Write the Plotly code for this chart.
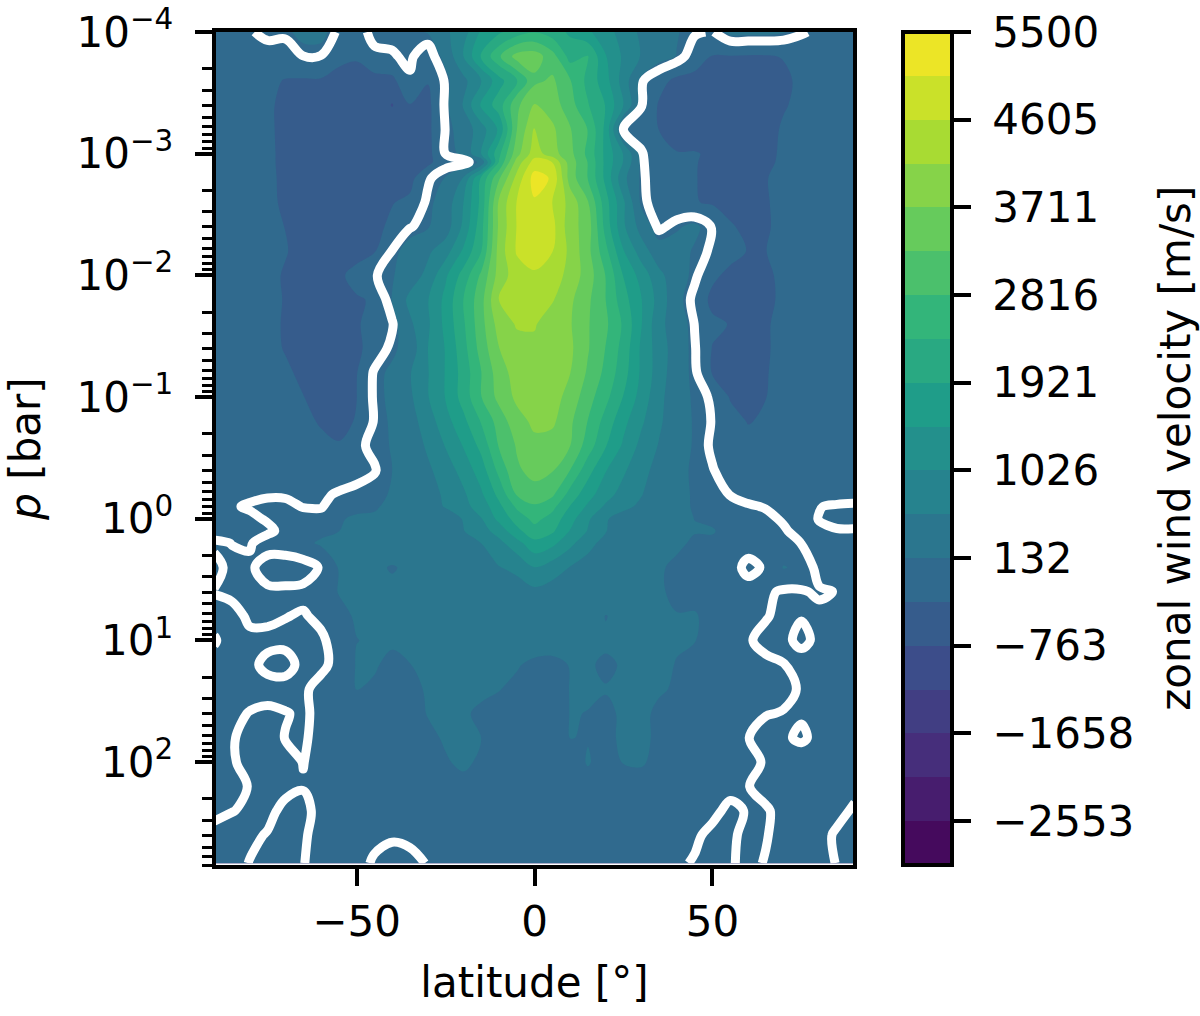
import plotly.graph_objects as go

latitude = list(range(-90, 95, 5))
log_p = [-4.0, -3.8, -3.6, -3.4, -3.2, -3.0, -2.93, -2.8, -2.6, -2.4, -2.2, -2.0, -1.8, -1.6, -1.4, -1.2, -1.0,
         -0.8, -0.6, -0.4, -0.2, -0.1, 0.0, 0.1, 0.2, 0.4, 0.6, 0.8, 1.0, 1.2, 1.4, 1.6, 1.8, 2.0, 2.2, 2.4, 2.6, 2.83]
pressure = [10 ** v for v in log_p]

# zonal wind in m/s, one row per pressure level
wind = [
    [-100,-100,-30,80,60,250,250,-60,-60,40,60,80,150,500,821,1547,1847,2147,2347,2147,1847,1547,1221,821,500,350,150,30,-20,200,200,200,150,30,-60,-100,-100],
    [-130,-140,-170,-150,-150,-5,-10,-250,-280,-30,-20,40,-150,250,1021,1947,2747,3447,3500,3000,2200,2400,1500,950,550,250,120,-150,-330,-330,-340,-340,-300,-230,-180,-150,-120],
    [-150,-170,-200,-260,-330,-350,-350,-400,-450,-450,-400,-30,-300,30,450,1021,1747,2347,3147,3347,2847,2247,1647,821,30,-200,-400,-420,-440,-450,-450,-420,-380,-250,-200,-150,-120],
    [-160,-170,-200,-280,-370,-450,-450,-450,-450,-450,-790,-330,-400,40,621,1547,2147,3147,3750,3500,3000,2400,1900,1021,20,-350,-420,-450,-450,-450,-450,-450,-340,-250,-190,-150,-120],
    [-160,-170,-210,-280,-370,-450,-450,-450,-450,-450,-450,-440,-400,10,300,821,1547,3247,4200,3800,3300,2800,1800,-10,-150,-320,-450,-450,-450,-450,-450,-420,-280,-210,-180,-140,-120],
    [-160,-170,-210,-280,-360,-450,-450,-450,-450,-450,-450,-450,-420,5,200,1021,2247,3547,4400,3900,3400,2700,1800,1000,30,-250,-300,-300,-350,-450,-450,-420,-250,-200,-170,-140,-120],
    [-160,-170,-210,-280,-360,-450,-450,-450,-450,-450,-450,-450,-400,-100,-100,200,2400,3900,4800,4600,3500,2800,1800,1000,50,-250,-290,-300,-380,-450,-450,-400,-240,-190,-170,-140,-120],
    [-160,-170,-210,-270,-360,-450,-450,-450,-450,-450,-450,-420,-40,150,600,2000,3200,4300,5250,5000,3500,2800,1800,700,60,-200,-280,-300,-400,-440,-450,-330,-230,-180,-160,-130,-120],
    [-160,-170,-210,-270,-350,-440,-450,-450,-450,-450,-330,-250,50,300,1021,2047,3800,4620,5000,4605,4000,3300,2100,1100,50,-100,-250,-300,-350,-430,-440,-340,-230,-180,-160,-130,-120],
    [-160,-170,-210,-260,-320,-430,-450,-450,-450,-400,-250,-20,100,350,1119,2200,3800,4620,4900,4750,3900,3500,2200,1100,400,-60,100,200,-20,-280,-400,-350,-230,-180,-160,-130,-120],
    [-160,-170,-200,-250,-300,-400,-450,-450,-450,-340,10,300,500,821,1547,2347,3900,4650,4800,4620,4050,3400,2500,1500,800,300,250,100,-40,-200,-330,-320,-230,-180,-160,-130,-120],
    [-150,-170,-200,-250,-340,-430,-430,-380,-200,-20,100,350,700,1400,2100,2900,3900,4400,4550,4400,4000,3500,2800,1900,1300,700,300,50,-250,-400,-450,-370,-250,-190,-160,-130,-120],
    [-150,-170,-200,-250,-330,-440,-450,-440,-350,-280,150,700,1000,1600,2368,3100,4200,4500,4500,4200,3800,3350,2816,2100,1500,850,250,-80,-400,-440,-450,-380,-260,-190,-160,-130,-120],
    [-150,-170,-200,-250,-340,-440,-440,-440,-350,-200,-30,500,950,1600,2300,3100,3900,4200,4200,3900,3750,3300,2900,2300,1500,700,350,-10,-250,-330,-380,-340,-250,-190,-160,-130,-120],
    [-150,-170,-200,-250,-330,-430,-440,-440,-400,-150,60,300,1021,1500,2200,3000,3700,4000,4050,4050,3800,3300,2800,2200,1400,800,350,20,-330,-420,-430,-340,-250,-190,-160,-130,-120],
    [-150,-170,-200,-240,-280,-360,-430,-430,-330,30,200,550,1000,1500,2100,2800,3500,3900,4000,4000,3720,3200,2700,2100,1400,800,300,50,-340,-430,-430,-330,-240,-190,-160,-130,-120],
    [-150,-170,-190,-220,-260,-310,-400,-400,-320,40,200,500,1000,1500,2100,2800,3400,3800,3950,3900,3550,3000,2500,1900,1300,700,300,80,-30,-340,-400,-320,-230,-180,-160,-130,-120],
    [-140,-160,-180,-210,-240,-280,-330,-380,-300,20,170,400,800,1300,1800,2400,3000,3550,3800,3800,3350,2800,2200,1600,1100,650,300,100,-10,-200,-330,-280,-220,-180,-150,-130,-120],
    [-130,-150,-170,-190,-220,-250,-280,-300,-40,40,150,300,650,1050,1500,2050,2850,3300,3600,3500,3270,2600,1950,1400,900,550,280,100,-30,-150,-220,-220,-200,-170,-150,-130,-110],
    [-120,-130,-140,-150,-170,-190,-200,-190,-100,-15,130,250,500,800,1200,1700,2500,3200,3400,3300,2816,2100,1500,1100,700,450,230,80,10,-80,-150,-170,-160,-140,-130,-120,-100],
    [-100,-60,-20,-10,-15,-40,-50,30,70,80,150,250,400,650,950,1400,2050,2850,3100,2900,2200,1650,1200,850,600,350,220,100,60,-5,-30,-60,-100,-100,-90,-90,-80],
    [-70,-10,10,25,30,-5,-8,60,100,110,180,300,450,600,900,1200,1800,2450,2750,2500,1900,1400,950,680,500,300,200,110,70,40,10,-5,-60,-80,-5,20,30],
    [-80,-40,-20,10,60,60,50,120,150,160,170,220,280,400,600,1000,1600,2100,2500,2200,1650,1100,620,400,300,220,170,130,100,50,30,20,-10,-60,5,40,40],
    [-60,-50,-40,-20,30,70,100,130,170,180,220,280,320,400,560,850,1200,1800,2200,2000,1450,1000,600,380,260,210,170,140,145,70,40,30,10,-30,-20,-10,-10],
    [20,-3,-10,50,60,100,150,170,190,200,230,250,260,320,430,580,900,1300,1800,1600,1150,720,430,300,240,200,160,110,100,70,50,40,30,-2,-40,-60,-60],
    [-30,30,20,-50,-60,-50,10,140,160,160,120,160,210,260,330,450,560,680,1020,800,560,400,280,220,170,150,100,125,70,50,-30,15,140,100,-50,-80,-80],
    [5,40,60,20,20,25,90,135,170,165,165,170,180,190,210,250,300,380,470,380,300,240,200,180,160,150,100,100,80,60,50,20,-15,-10,15,-5,-60],
    [-40,-60,30,15,3,-8,20,110,140,160,170,170,160,170,180,190,195,230,290,250,210,190,128,160,140,135,138,140,100,60,20,10,-40,-10,-30,-60,-60],
    [10,-60,-40,-20,-25,-25,-15,40,130,140,145,155,160,165,170,165,165,170,185,170,160,150,145,140,140,135,135,135,90,50,15,-40,-40,40,-40,-50,-60],
    [-40,-50,-20,20,35,-30,-20,30,140,140,110,130,150,155,155,150,145,140,110,110,135,140,120,138,140,140,130,100,80,60,50,30,5,-80,-50,-60,-60],
    [-45,-50,-40,-30,-40,-15,30,60,133,120,100,110,140,150,150,145,135,110,80,80,135,140,135,135,140,138,125,90,70,55,45,35,25,-10,-40,-50,-50],
    [-50,-25,5,15,5,-15,25,50,80,90,90,100,135,145,140,120,100,80,60,60,135,130,120,140,145,120,100,75,60,40,10,5,-5,-15,-40,-50,-50],
    [-40,-5,20,30,-3,-15,40,60,70,80,85,90,115,140,145,133,90,70,50,50,133,128,120,140,145,120,90,65,50,40,3,-40,-20,20,-40,-50,-50],
    [-40,-5,15,30,30,-2,30,50,60,70,70,80,95,125,145,120,80,60,40,40,90,138,100,135,140,110,80,60,50,40,40,-15,-60,-80,-60,-50,-40],
    [-30,-30,5,15,20,5,40,50,50,60,60,70,80,90,110,95,70,55,40,40,70,100,80,100,100,80,60,50,45,20,3,-30,-50,-50,-40,-30,-20],
    [-15,-2,10,20,-20,-25,30,40,45,45,50,50,55,60,70,65,50,45,35,35,50,60,55,60,60,50,40,30,15,-15,5,10,-30,-40,-40,-20,10],
    [20,30,15,-5,-30,-10,30,35,30,10,5,8,20,35,40,40,35,30,30,30,35,40,40,40,35,30,25,10,-15,-10,15,5,-30,-35,-25,10,30],
    [25,30,-3,-25,-30,-3,30,25,15,-5,-15,-10,2,20,30,30,25,25,25,25,30,30,30,30,25,20,10,-5,-15,-8,20,-5,-30,-35,-25,3,30],
]
assert len(wind) == len(pressure) and all(len(r) == len(latitude) for r in wind)

cbar_ticks = [-2553, -1658, -763, 132, 1026, 1921, 2816, 3711, 4605, 5500]
cbar_labels = ["\u00a0\u22122553", "\u00a0\u22121658", "\u00a0\u2212763", "\u00a0132", "\u00a01026",
               "\u00a01921", "\u00a02816", "\u00a03711", "\u00a04605", "\u00a05500"]
p_ticks = [1e-4, 1e-3, 1e-2, 1e-1, 1, 10, 100]
p_labels = ["10<sup>\u22124</sup>\u00a0", "10<sup>\u22123</sup>\u00a0", "10<sup>\u22122</sup>\u00a0",
            "10<sup>\u22121</sup>\u00a0", "10<sup>0</sup>\u00a0", "10<sup>1</sup>\u00a0", "10<sup>2</sup>\u00a0"]
p_minor = [m * 10.0 ** e for e in range(-4, 3) for m in range(2, 10)]
lat_ticks = [-50, 0, 50]

FONT = "DejaVu Sans"
TEXT_SIZE = 42

fig = go.Figure()
fig.add_trace(go.Contour(
    x=latitude, y=pressure, z=wind,
    colorscale="Viridis", zmin=-3000, zmax=5500,
    contours=dict(start=-3000, end=5500, size=8500 / 19, coloring="fill", showlines=False),
    line=dict(width=0),
    hoverinfo="skip",
    colorbar=dict(
        x=1.0785, xanchor="left", xpad=0, y=0.5, yanchor="middle", len=1, ypad=0,
        thickness=49, outlinewidth=4, outlinecolor="black",
        tickmode="array", tickvals=cbar_ticks, ticktext=cbar_labels,
        ticks="outside", ticklen=17, tickwidth=4, tickcolor="black",
        tickfont=dict(family=FONT, size=TEXT_SIZE, color="black"),
    ),
))
# the zero wind line
fig.add_trace(go.Contour(
    x=latitude, y=pressure, z=wind,
    showscale=False, hoverinfo="skip",
    contours=dict(start=0, end=0, size=1, coloring="none"),
    line=dict(color="white", width=9, smoothing=1),
))

fig.update_layout(
    width=1200, height=1016,
    margin=dict(l=216, r=347, t=32, b=151, autoexpand=False),
    paper_bgcolor="white", plot_bgcolor="white",
    showlegend=False,
    font=dict(family=FONT, color="black"),
    xaxis=dict(
        range=[-89.5, 89.5], tickmode="array", tickvals=lat_ticks,
        showgrid=False, zeroline=False, showline=True, mirror=True, linewidth=4, linecolor="black",
        ticks="outside", ticklen=17, tickwidth=4, tickcolor="black",
        tickfont=dict(size=TEXT_SIZE),
        title=dict(text="latitude [\u00b0]", font=dict(size=TEXT_SIZE), standoff=23),
    ),
    yaxis=dict(
        type="log", range=[2.845, -4], tickmode="array", tickvals=p_ticks, ticktext=p_labels,
        showgrid=False, zeroline=False, showline=True, mirror=True, linewidth=4, linecolor="black",
        ticks="outside", ticklen=17, tickwidth=4, tickcolor="black",
        tickfont=dict(size=TEXT_SIZE),
        title=dict(text="<i>p</i> [bar]", font=dict(size=TEXT_SIZE), standoff=24),
        minor=dict(tickmode="array", tickvals=p_minor, ticks="outside", ticklen=10, tickwidth=2.5,
                   tickcolor="black", showgrid=False),
    ),
    annotations=[dict(
        text="zonal wind velocity [m/s]", textangle=-90, showarrow=False,
        xref="paper", yref="paper", x=1.505, y=0.5006, xanchor="center", yanchor="middle",
        font=dict(family=FONT, size=TEXT_SIZE, color="black"),
    )],
)

fig.write_html("out.html", config={"displayModeBar": False},
               post_script="document.body.style.margin='0';")
